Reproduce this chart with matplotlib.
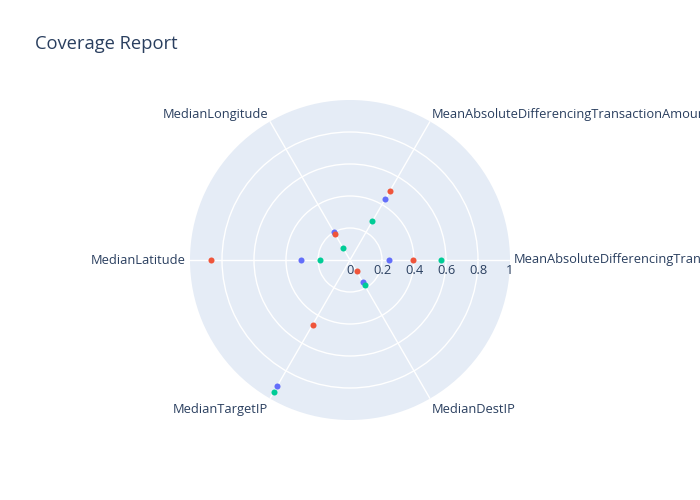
import numpy as np
import matplotlib
matplotlib.use('Agg')
import matplotlib.pyplot as plt
from matplotlib.transforms import offset_copy

categories = [
    "MeanAbsoluteDifferencingTransactionCount",
    "MeanAbsoluteDifferencingTransactionAmount",
    "MedianLongitude",
    "MedianLatitude",
    "MedianTargetIP",
    "MedianDestIP",
]
series_blue = [0.246, 0.44, 0.20, 0.304, 0.907, 0.158]
series_red = [0.393, 0.497, 0.187, 0.87, 0.467, 0.082]
series_green = [0.568, 0.28, 0.084, 0.188, 0.954, 0.182]
radial_ticks = [0, 0.2, 0.4, 0.6, 0.8, 1]
radial_tick_labels = ["0", "0.2", "0.4", "0.6", "0.8", "1"]
title = "Coverage Report"

TEXT = "#2a3f5f"
plt.rcParams['font.family'] = ['Open Sans', 'DejaVu Sans']
FS = 9.3

fig = plt.figure(figsize=(7, 5), dpi=100)
fig.patch.set_facecolor('white')
ax = fig.add_axes([190 / 700, 80 / 500, 320 / 700, 320 / 500], projection='polar')
ax.set_facecolor('#E5ECF6')
ax.spines['polar'].set_visible(False)

n = len(categories)
theta = np.arange(n) * 2 * np.pi / n

ax.set_ylim(0, 1)
ax.set_yticks([0.2, 0.4, 0.6, 0.8])
ax.set_yticklabels([])
ax.set_xticks(theta)
ax.set_xticklabels([])
ax.grid(True, color='white', linewidth=1)
ax.tick_params(length=0)

for vals, col in [(series_blue, '#636efa'), (series_red, '#EF553B'), (series_green, '#00cc96')]:
    ax.scatter(theta, vals, s=19, color=col, zorder=3, clip_on=False, linewidths=0)

# radial tick labels
tr = offset_copy(ax.transData, fig=fig, x=0, y=-11, units='dots')
for r, lab in zip(radial_ticks, radial_tick_labels):
    ax.text(0, r, lab, transform=tr, ha='center', va='center',
            fontsize=FS, color=TEXT, clip_on=False)

# angular labels
offsets = [(4, 0, 'left'), (2, 7, 'left'), (-2, 7, 'right'),
           (-4, 0, 'right'), (-2, -10.5, 'right'), (2, -10.5, 'left')]
for t, lab, (dx, dy, ha) in zip(theta, categories, offsets):
    trl = offset_copy(ax.transData, fig=fig, x=dx, y=dy, units='dots')
    ax.text(t, 1, lab, transform=trl, ha=ha, va='center',
            fontsize=FS, color=TEXT, clip_on=False)

fig.text(35 / 700, 1 - 44 / 500, title, ha='left', va='center',
         fontsize=13.2, color=TEXT)

fig.savefig('out.png', dpi=100, facecolor='white')
